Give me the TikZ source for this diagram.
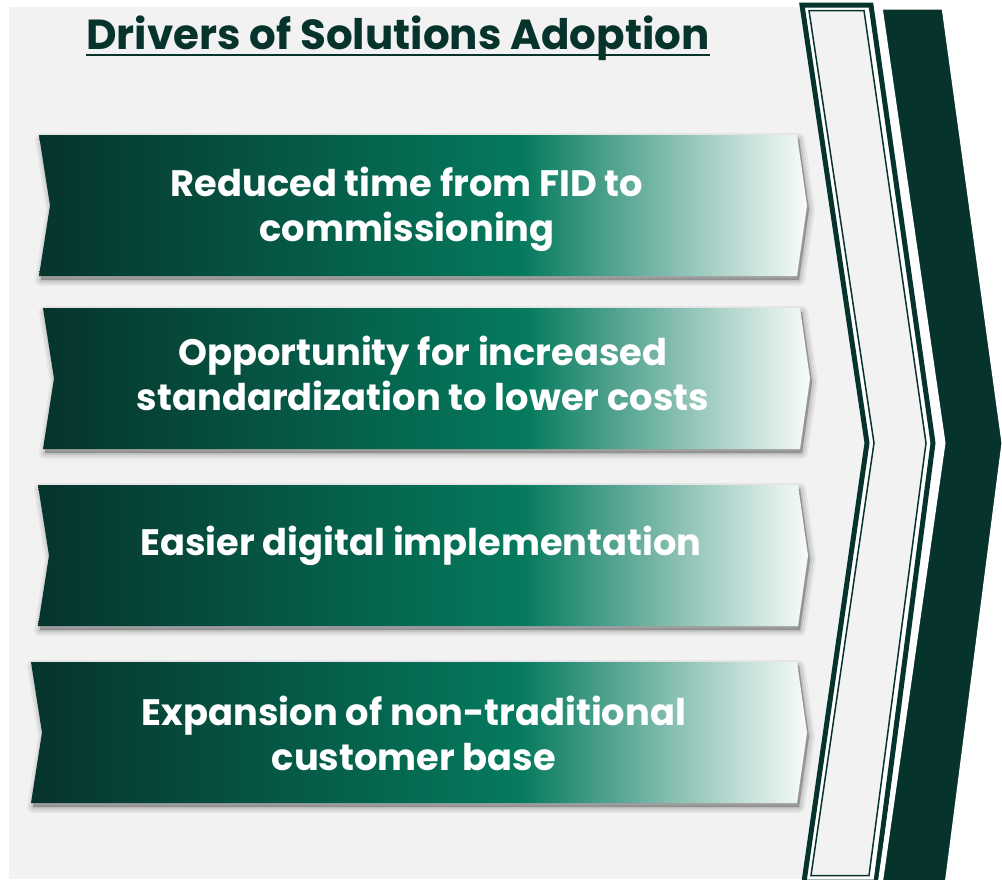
\documentclass[tikz,border=0pt]{standalone}
\usepackage{fontspec}
\setmainfont{Poppins}
\definecolor{dk}{HTML}{06342C}
\definecolor{mid}{HTML}{057A5E}
\definecolor{bg}{HTML}{F2F2F2}
\definecolor{pale}{HTML}{F8FBFA}
\pgfdeclarehorizontalshading{banner}{100bp}{color(0bp)=(dk); color(25bp)=(dk); color(56.5bp)=(mid); color(75bp)=(pale); color(100bp)=(pale)}
\tikzset{
  btext/.style={text=white, font=\bfseries\fontsize{36.8}{45}\selectfont, align=center, inner sep=0pt},
  bannerfill/.style={shading=banner},
}
% banner outline: top, bottom, left x, right x
\newcommand\bannerpath[4]{(#3,#1) -- (#4,#1) -- ({#4+10},{(#1+#2)/2}) -- (#4,#2) -- (#3,#2) -- ({#3+11},{(#1+#2)/2}) -- cycle}
\newcommand\banner[4]{%
  \foreach \w/\o in {12/0.05,8/0.06,4/0.07,0.1/0.10}{%
    \fill[black, opacity=\o, draw=black, line width=\w pt, line join=round, shift={(2,4)}] \bannerpath{#1}{#2}{#3}{#4};
  }
  \shade[bannerfill] \bannerpath{#1}{#2}{#3}{#4};
}
\begin{document}
\begin{tikzpicture}[x=1pt, y=-1pt]
\useasboundingbox (0,0) rectangle (1002,879);
\clip (0,0) rectangle (1002,879);
% panel
\fill[bg] (9,7) rectangle (870,879);
% hollow chevron with thick-thin outline
\draw[dk, line width=5pt, fill=white, line join=miter] (802,5) -- (871,5) -- (933,443) -- (876,882) -- (804,882) -- (867,443) -- cycle;
\draw[dk, line width=1.5pt, fill=bg, line join=miter] (809,10.5) -- (864,10.5) -- (926,443) -- (869,875.5) -- (811,875.5) -- (874,443) -- cycle;
% solid chevron
\filldraw[fill=dk, draw=white, line width=5pt, line join=miter] (880,7) -- (944,7) -- (1004,443) -- (947,885) -- (880,885) -- (943,443) -- cycle;
% title
\node[anchor=base, inner sep=0pt, text=dk, font=\bfseries\fontsize{42}{50}\selectfont] (title) at (398,49) {Drivers of Solutions Adoption};
\coordinate (ul) at (0,55);
\draw[dk, line width=2pt] (title.west |- ul) -- (title.east |- ul);
% banners
\banner{135}{276}{39}{797}
\banner{308}{449}{43}{800}
\banner{485}{626}{38}{798}
\banner{662}{803}{31}{797}
\node[btext] (d1) at (407,209) {Reduced time from FID to\\commissioning};
\node[btext] (d2) at (423,373) {Opportunity for increased\\standardization to lower costs};
\node[btext] (d3) at (421,546) {Easier digital implementation};
\node[btext] (d4) at (414,733) {Expansion of non-traditional\\customer base};
\end{tikzpicture}
\end{document}
